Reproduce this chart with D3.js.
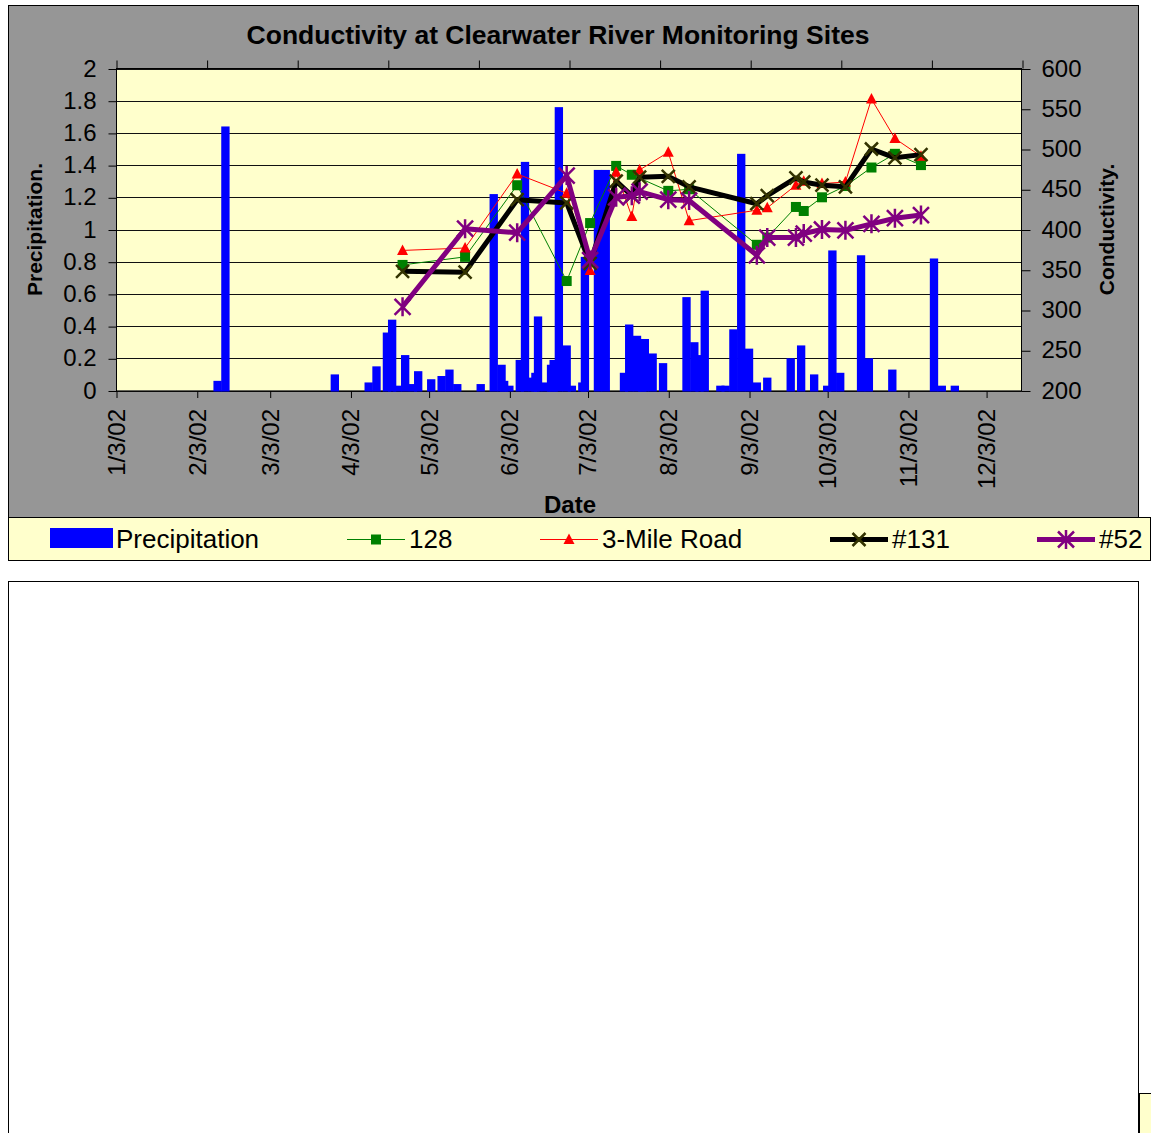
<!DOCTYPE html>
<html><head><meta charset="utf-8">
<script src="https://cdn.jsdelivr.net/npm/d3@7"></script>
<style>body{margin:0;background:#fff}svg{display:block}text{font-family:"Liberation Sans",Arial,sans-serif}</style>
</head><body>
<script>
// ---------------- DATA ----------------
const chartTitle = "Conductivity at Clearwater River Monitoring Sites";
const xTickDates = ["2002-01-03","2002-02-03","2002-03-03","2002-04-03","2002-05-03","2002-06-03",
  "2002-07-03","2002-08-03","2002-09-03","2002-10-03","2002-11-03","2002-12-03"];
const precipTicks = [0,0.2,0.4,0.6,0.8,1,1.2,1.4,1.6,1.8,2];
const condTicks = [200,250,300,350,400,450,500,550,600];

const precipDates = ["2002-02-11","2002-02-14","2002-03-28","2002-04-10","2002-04-13","2002-04-17","2002-04-19",
 "2002-04-21","2002-04-24","2002-04-27","2002-04-29","2002-05-04","2002-05-08","2002-05-11","2002-05-14",
 "2002-05-23","2002-05-28","2002-05-31","2002-06-01","2002-06-03","2002-06-07","2002-06-09","2002-06-12",
 "2002-06-13","2002-06-14","2002-06-17","2002-06-19","2002-06-20","2002-06-22","2002-06-25","2002-06-27",
 "2002-07-01","2002-07-02","2002-07-07","2002-07-10","2002-07-17","2002-07-19","2002-07-22","2002-07-24",
 "2002-07-25","2002-07-28","2002-08-01","2002-08-10","2002-08-13","2002-08-15","2002-08-17","2002-08-23",
 "2002-08-25","2002-08-28","2002-08-31","2002-09-03","2002-09-06","2002-09-10","2002-09-19","2002-09-23",
 "2002-09-28","2002-10-03","2002-10-05","2002-10-08","2002-10-16","2002-10-19","2002-10-28","2002-11-13",
 "2002-11-16","2002-11-21"];
const precipValues = [0.06,1.64,0.10,0.05,0.15,0.36,0.44,
 0.03,0.22,0.04,0.12,0.07,0.09,0.13,0.04,
 0.04,1.22,0.16,0.06,0.03,0.19,1.42,0.08,
 0.11,0.46,0.05,0.16,0.19,1.76,0.28,0.03,
 0.05,0.83,1.37,1.37,0.11,0.41,0.34,0.04,
 0.32,0.23,0.17,0.58,0.30,0.22,0.62,0.03,
 0.03,0.38,1.47,0.26,0.05,0.08,0.20,0.28,
 0.10,0.03,0.87,0.11,0.84,0.20,0.13,0.82,
 0.03,0.03];

const sampleDates = ["2002-04-23","2002-05-17","2002-06-06","2002-06-25","2002-07-04","2002-07-14","2002-07-20",
 "2002-07-23","2002-08-03","2002-08-11","2002-09-06","2002-09-10","2002-09-21","2002-09-24","2002-10-01",
 "2002-10-10","2002-10-20","2002-10-29","2002-11-08"];
const site128   = [356,366,455,336,408,479,468,null,448,450,381,390,428,423,440,454,477,494,480];
const site3Mile = [374,377,469,445,349,471,416,474,496,411,424,427,455,460,457,459,562,513,491];
const site131   = [348,347,437,433,358,460,442,465,466,453,432,442,464,459,455,453,500,489,493];
const site52    = [304,401,396,467,362,440,442,447,437,436,368,390,390,395,400,399,407,414,418];

const seriesNames = ["Precipitation","128","3-Mile Road","#131","#52"];

// ---------------- DRAW ----------------
const W = 1151, H = 1133;
const parse = d3.utcParse("%Y-%m-%d");
const DAY = 864e5;
const svg = d3.select("body").append("svg").attr("width", W).attr("height", H);

const plot = {l:116, r:1021, t:68.5, b:390.5};
const x0 = Date.UTC(2002,0,3);
const x = d3.scaleUtc().domain([new Date(x0), new Date(x0 + 347.4*DAY)]).range([plot.l, plot.r]);
const yP = d3.scaleLinear().domain([0,2]).range([plot.b, plot.t]);
const yC = d3.scaleLinear().domain([200,600]).range([plot.b, plot.t]);
const xTop = d3.scaleLinear().domain([0,10]).range([plot.l, plot.r+1]);

// chart area
svg.append("rect").attr("x",8.5).attr("y",5.5).attr("width",1130).attr("height",512)
  .attr("fill","#969696").attr("stroke","#000");
// lower blank object
svg.append("rect").attr("x",8.5).attr("y",581.5).attr("width",1130).attr("height",600)
  .attr("fill","#fff").attr("stroke","#000");
svg.append("rect").attr("x",1139.5).attr("y",1093.5).attr("width",30).attr("height",60)
  .attr("fill","#FFFFCC").attr("stroke","#000");

// plot area
svg.append("rect").attr("x",plot.l).attr("y",plot.t).attr("width",plot.r-plot.l).attr("height",plot.b-plot.t)
  .attr("fill","#FFFFCC");

// gridlines
svg.append("g").selectAll("line").data(precipTicks).join("line")
  .attr("x1",plot.l).attr("x2",plot.r)
  .attr("y1",d=>Math.round(yP(d))+0.5).attr("y2",d=>Math.round(yP(d))+0.5)
  .attr("stroke","#111").attr("stroke-width",1);

// title
svg.append("text").attr("x",558).attr("y",44).attr("text-anchor","middle")
  .attr("font-size",26.5).attr("font-weight","bold").text(chartTitle);

// left axis
const gL = svg.append("g").attr("transform",`translate(${plot.l+0.5},0)`)
  .call(d3.axisLeft(yP).tickValues(precipTicks).tickFormat(d3.format("~g")).tickSize(8).tickPadding(12));
gL.select(".domain").attr("stroke","#000").attr("d",`M0,${plot.t}V${plot.b+1}`);
gL.selectAll(".tick line").attr("stroke","#000").attr("transform","translate(0,0.5)");
gL.selectAll("text").attr("font-size",24).attr("fill","#000").attr("font-family","Liberation Sans, Arial, sans-serif");

// right axis
const gR = svg.append("g").attr("transform",`translate(${plot.r+0.5},0)`)
  .call(d3.axisRight(yC).tickValues(condTicks).tickSize(9).tickPadding(11));
gR.select(".domain").attr("stroke","#000").attr("d",`M0,${plot.t}V${plot.b+1}`);
gR.selectAll(".tick line").attr("stroke","#000").attr("transform","translate(0,0.5)");
gR.selectAll("text").attr("font-size",24).attr("fill","#000").attr("font-family","Liberation Sans, Arial, sans-serif");

// bottom axis (dates)
const fmt = d => `${d.getUTCMonth()+1}/${d.getUTCDate()}/${String(d.getUTCFullYear()).slice(2)}`;
const gB = svg.append("g").attr("transform",`translate(0,${plot.b+0.5})`)
  .call(d3.axisBottom(x).tickValues(xTickDates.map(parse)).tickFormat(fmt).tickSize(7).tickPadding(0));
gB.select(".domain").attr("stroke","#000").attr("d",`M${plot.l},0H${plot.r+1}`);
gB.selectAll(".tick line").attr("stroke","#000").attr("transform","translate(0.5,0)");
gB.selectAll("text").attr("font-size",24).attr("fill","#000").attr("font-family","Liberation Sans, Arial, sans-serif")
  .attr("text-anchor","end").attr("transform","translate(0,18) rotate(-90)").attr("dy","0.35em").attr("y",0).attr("x",0);

// top secondary axis ticks
const gT = svg.append("g").attr("transform",`translate(0,${plot.t})`)
  .call(d3.axisTop(xTop).ticks(10).tickFormat("").tickSize(8));
gT.select(".domain").attr("stroke","#000").attr("d",`M${plot.l},0H${plot.r+1}`);
gT.selectAll(".tick line").attr("stroke","#000").attr("transform","translate(0.5,0)");

// axis titles
svg.append("text").attr("transform",`translate(42,${(plot.t+plot.b)/2}) rotate(-90)`)
  .attr("text-anchor","middle").attr("font-size",21).attr("font-weight","bold").text("Precipitation.");
svg.append("text").attr("transform",`translate(1114,${(plot.t+plot.b)/2}) rotate(-90)`)
  .attr("text-anchor","middle").attr("font-size",21).attr("font-weight","bold").text("Conductivity.");
svg.append("text").attr("x",570).attr("y",513).attr("text-anchor","middle")
  .attr("font-size",24).attr("font-weight","bold").text("Date");

// bars
const barData = precipDates.map((d,i)=>({date:parse(d), v:precipValues[i]}));
const bw = d => x(new Date(+d + 3.2*DAY)) - x(d);
svg.append("g").selectAll("rect").data(barData).join("rect")
  .attr("x", d => x(d.date) - bw(d.date)/2)
  .attr("width", d => bw(d.date))
  .attr("y", d => yP(d.v))
  .attr("height", d => yP(0) - yP(d.v) + 1)
  .attr("fill","#0000FF");

// marker shapes
function drawMarker(g, type, cx, cy) {
  if (type === "square") {
    g.append("rect").attr("x",cx-5).attr("y",cy-5).attr("width",10).attr("height",10).attr("fill","#008000");
  } else if (type === "triangle") {
    g.append("path").attr("d",`M${cx},${cy-6}L${cx+5.5},${cy+4.5}L${cx-5.5},${cy+4.5}Z`).attr("fill","#FF0000");
  } else if (type === "x") {
    const s = 6.5;
    g.append("path").attr("d",`M${cx-s},${cy-s}L${cx+s},${cy+s}M${cx-s},${cy+s}L${cx+s},${cy-s}`)
      .attr("stroke","#333300").attr("stroke-width",2.5).attr("fill","none");
  } else if (type === "star") {
    const s = 8;
    g.append("path").attr("d",`M${cx-s},${cy-s}L${cx+s},${cy+s}M${cx-s},${cy+s}L${cx+s},${cy-s}M${cx},${cy-s-1.5}L${cx},${cy+s+1.5}`)
      .attr("stroke","#800080").attr("stroke-width",2.5).attr("fill","none");
  }
}

const sDates = sampleDates.map(parse);
const series = [
  {vals:site128, color:"#008000", w:1, marker:"square"},
  {vals:site3Mile, color:"#FF0000", w:1, marker:"triangle"},
  {vals:site131, color:"#000000", w:5, marker:"x"},
  {vals:site52, color:"#800080", w:5, marker:"star"}
];
const line = d3.line().x(d=>x(d.date)).y(d=>yC(d.v));
series.forEach(s => {
  const pts = sDates.map((d,i)=>({date:d, v:s.vals[i]})).filter(p=>p.v!=null);
  const g = svg.append("g");
  g.append("path").datum(pts).attr("d", line).attr("fill","none")
    .attr("stroke", s.color).attr("stroke-width", s.w).attr("stroke-linejoin","round");
  pts.forEach(p => drawMarker(g, s.marker, x(p.date), yC(p.v)));
});

// legend
svg.append("rect").attr("x",8.5).attr("y",517.5).attr("width",1142).attr("height",43)
  .attr("fill","#FFFFCC").attr("stroke","#000");
const lg = svg.append("g");
const legY = 539.5;
const legItems = [
  {name:seriesNames[0], type:"bar", x0:50},
  {name:seriesNames[1], type:"line", x0:347, color:"#008000", w:1, marker:"square"},
  {name:seriesNames[2], type:"line", x0:540, color:"#FF0000", w:1, marker:"triangle"},
  {name:seriesNames[3], type:"line", x0:830, color:"#000000", w:5, marker:"x"},
  {name:seriesNames[4], type:"line", x0:1037, color:"#800080", w:5, marker:"star"}
];
legItems.forEach(it => {
  let tx;
  if (it.type === "bar") {
    lg.append("rect").attr("x",it.x0).attr("y",528).attr("width",63).attr("height",20).attr("fill","#0000FF");
    tx = it.x0 + 66;
  } else {
    lg.append("line").attr("x1",it.x0).attr("x2",it.x0+58).attr("y1",legY).attr("y2",legY)
      .attr("stroke",it.color).attr("stroke-width",it.w);
    drawMarker(lg, it.marker, it.x0+29, legY);
    tx = it.x0 + 62;
  }
  lg.append("text").attr("x",tx).attr("y",548).attr("font-size",26).text(it.name);
});
</script>
</body></html>
